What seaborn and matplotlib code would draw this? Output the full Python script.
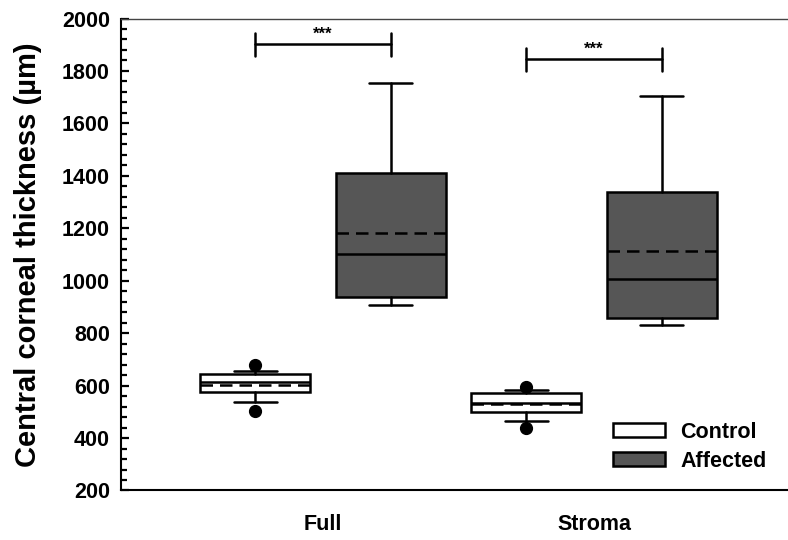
# IMPORTS #
import numpy as np
import matplotlib
matplotlib.use('Agg')
import matplotlib.pyplot as plt
import seaborn as sns
from matplotlib.patches import Patch
from matplotlib.ticker import MultipleLocator

# DATA #
categories = ['Full', 'Stroma']
groups = ['Control', 'Affected']

control_q1 = [575, 498]
control_med = [612, 535]
control_q3 = [644, 571]
control_mean = [603, 529]
control_lo = [539, 466]
control_hi = [657, 583]
control_out = [[504, 678], [437, 593]]

affected_q1 = [937, 858]
affected_med = [1102, 1006]
affected_q3 = [1410, 1338]
affected_mean = [1181, 1113]
affected_lo = [907, 831]
affected_hi = [1755, 1704]
affected_out = [[], []]

sig_level = [1902, 1844]
sig_text = ['***', '***']

# STYLE #
sns.set_style('ticks')
plt.rcParams['font.family'] = ['Liberation Sans', 'DejaVu Sans']
plt.rcParams['font.weight'] = 'bold'
for key in ['text.color', 'axes.labelcolor', 'xtick.color', 'ytick.color', 'axes.edgecolor']:
    plt.rcParams[key] = 'black'

fill = {'Control': 'white', 'Affected': '#565656'}
shift = {'Control': -0.25, 'Affected': 0.25}


def make_stats(q1, med, q3, mean, lo, hi, out):
    stats = []
    for i in range(len(categories)):
        stats.append({'q1': q1[i], 'med': med[i], 'q3': q3[i], 'mean': mean[i],
                      'whislo': lo[i], 'whishi': hi[i], 'fliers': np.array(out[i])})
    return stats


all_stats = {
    'Control': make_stats(control_q1, control_med, control_q3, control_mean,
                          control_lo, control_hi, control_out),
    'Affected': make_stats(affected_q1, affected_med, affected_q3, affected_mean,
                           affected_lo, affected_hi, affected_out),
}

# PLOT #
fig = plt.figure(figsize=(7.88, 5.4), dpi=100)
ax = fig.add_axes([0.1536, 0.0917, 0.8464, 0.874])

lw = 1.8
for g in groups:
    pos = [i + shift[g] for i in range(len(categories))]
    ax.bxp(all_stats[g], positions=pos, widths=0.406, capwidths=0.16,
           showmeans=True, meanline=True, showfliers=True, patch_artist=True,
           boxprops=dict(facecolor=fill[g], edgecolor='black', linewidth=lw),
           medianprops=dict(color='black', linewidth=lw),
           meanprops=dict(color='black', linewidth=lw, linestyle=(0, (5, 2.8))),
           whiskerprops=dict(color='black', linewidth=lw),
           capprops=dict(color='black', linewidth=lw),
           flierprops=dict(marker='o', markerfacecolor='black', markeredgecolor='black',
                           markersize=8.5))

# significance brackets
for i in range(len(categories)):
    x1 = i + shift['Control']
    x2 = i + shift['Affected']
    y = sig_level[i]
    ax.plot([x1, x2], [y, y], color='black', lw=lw)
    ax.plot([x1, x1], [y - 44, y + 44], color='black', lw=lw)
    ax.plot([x2, x2], [y - 44, y + 44], color='black', lw=lw)
    ax.text((x1 + x2) / 2, y + 10, sig_text[i], ha='center', va='bottom',
            fontsize=12, fontweight='bold')

# AXES #
ax.set_xlim(-0.745, 1.716)
ax.set_ylim(200, 2000)
ax.set_xticks(range(len(categories)))
ax.set_xticklabels(categories)
ax.yaxis.set_major_locator(MultipleLocator(200))
ax.yaxis.set_minor_locator(MultipleLocator(40))
ax.tick_params(axis='y', which='major', direction='in', length=6, width=1.6,
               labelsize=15.5, pad=8)
ax.tick_params(axis='y', which='minor', direction='in', length=4.5, width=1.6)
ax.tick_params(axis='x', length=0, labelsize=15.5, pad=17)
ax.set_ylabel('Central corneal thickness (µm)', fontsize=21, fontweight='bold', labelpad=14)

sns.despine(ax=ax, top=False, right=True)
ax.spines['left'].set_linewidth(1.5)
ax.spines['bottom'].set_linewidth(1.5)
ax.spines['top'].set_linewidth(1.0)
ax.spines['top'].set_color('#444444')

# LEGEND #
handles = [Patch(facecolor=fill[g], edgecolor='black', linewidth=lw, label=g) for g in groups]
ax.legend(handles=handles, loc='upper left', bbox_to_anchor=(0.738, 0.146),
          frameon=False, fontsize=15.5, handlelength=2.4, handleheight=0.65,
          handletextpad=0.7, labelspacing=0.38, borderpad=0, borderaxespad=0)

fig.savefig('out.png', dpi=100)
